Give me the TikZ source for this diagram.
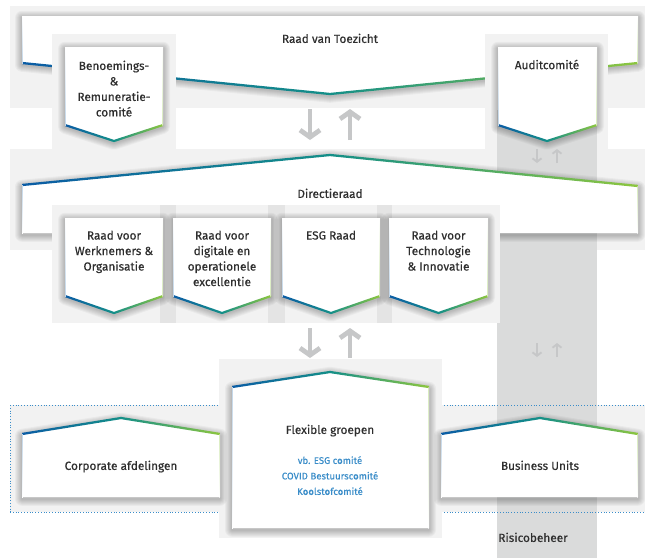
\documentclass[tikz,border=0pt]{standalone}
\usepackage{fontspec}
\setmainfont{Fira Sans}[FakeBold=0.45]
\newfontfamily\plainfont{Fira Sans}[FakeBold=0.2]
\usetikzlibrary{arrows.meta}
\definecolor{gblue}{HTML}{0B5CA5}
\definecolor{gteal}{HTML}{148F88}
\definecolor{ggreen}{HTML}{8DC63F}
\definecolor{bgl}{HTML}{F2F2F2}
\definecolor{colg}{HTML}{DADBDB}
\definecolor{sepg}{HTML}{E4E4E4}
\definecolor{arrg}{HTML}{C6C7C8}
\definecolor{txt}{HTML}{2E2E2E}
\definecolor{btxt}{HTML}{3A8DC9}
\newcommand\gradline[6]{%
  \begin{scope}
    \clip (#1,#2-1.15) -- (#3,#4-1.15) -- (#5,#6-1.15) -- (#5,#6+1.15) -- (#3,#4+1.15) -- (#1,#2+1.15) -- cycle;
    \shade[left color=gblue, right color=ggreen, middle color=gteal] (#1,#2-40) rectangle (#5,#4+40);
  \end{scope}}
\newcommand\vedge[5]{%
  \shade[top color=#4, bottom color=#5] (#1-0.35,#2) rectangle (#1+0.35,#3);}
\newcommand\shbox[1]{%
  \foreach \ww in {14,12,10,8,6,4,2}{\draw[shadowstroke, line width=\ww pt] #1;}
  \fill[white] #1;}
\tikzset{
  shadowstroke/.style={draw=black, opacity=0.035, line join=round, yshift=-1.8pt},
  backing/.style={fill=bgl},
  lbl/.style={text=txt, font=\fontsize{11.8}{15.5}\selectfont, align=center, inner sep=0pt, anchor=north},
  blbl/.style={text=btxt, font=\plainfont\fontsize{9.6}{15.5}\selectfont, align=center, inner sep=0pt, anchor=north},
  bigarrow/.style={draw=arrg, line width=4.8pt, -{Straight Barb[length=7pt, width=20pt]}},
  smallarrow/.style={draw=arrg, line width=1.9pt, -{Straight Barb[length=3.5pt, width=9pt]}},
  dottedline/.style={draw=btxt, line width=0.8pt, dash pattern=on 0.8pt off 2pt}
}
\begin{document}
\begin{tikzpicture}[x=1pt,y=-1pt]
\useasboundingbox (0,0) rectangle (645,558);
% backgrounds
\fill[bgl] (10,6) rectangle (645,108);
\fill[bgl] (10,149) rectangle (645,250);
\fill[bgl] (10,405) rectangle (645,512);
\fill[colg] (497,152) rectangle (597,558);
\draw[dottedline] (10,405) -- (645,405);
\draw[dottedline] (10,512) -- (645,512);
\draw[dottedline] (10,405) -- (10,512);
% Raad van Toezicht
\shbox{(22,16) -- (638,16) -- (638,63) -- (330,94) -- (22,63) -- cycle}
\gradline{22}{63}{330}{94}{638}{63}
\vedge{22.4}{16}{63}{white}{gblue!25}
\vedge{637.6}{16}{63}{white}{ggreen!35}
\fill[backing] (52,34) rectangle (176,152);
\fill[backing] (485,34) rectangle (608,152);
\fill[colg] (497,110) rectangle (597,152);
\shbox{(65,47) -- (163,47) -- (163,125) -- (114,141) -- (65,125) -- cycle}
\gradline{65}{125}{114}{141}{163}{125}
\vedge{65.4}{47}{125}{white}{gblue!25}
\vedge{162.6}{47}{125}{white}{ggreen!35}
\shbox{(498,47) -- (597,47) -- (597,125) -- (547,141) -- (498,125) -- cycle}
\gradline{498}{125}{547}{141}{597}{125}
\vedge{498.4}{47}{125}{white}{gblue!25}
\vedge{596.6}{47}{125}{white}{ggreen!35}
% Directieraad
\shbox{(22,185) -- (330,155) -- (638,186) -- (638,233) -- (22,233) -- cycle}
\gradline{22}{185}{330}{155}{638}{186}
\vedge{22.4}{185}{233}{gblue!25}{white}
\vedge{637.6}{186}{233}{ggreen!35}{white}
\fill[backing] (52,205) rectangle (500,323);
\fill[sepg] (160,205) rectangle (176,323);
\fill[sepg] (268,205) rectangle (285,323);
\fill[sepg] (377,205) rectangle (392,323);
\foreach \xa/\xb in {65/163,173/271,282/380,389/488}{
  \pgfmathsetmacro\xm{(\xa+\xb)/2}
  \shbox{(\xa,218) -- (\xb,218) -- (\xb,296) -- (\xm,313) -- (\xa,296) -- cycle}
  \gradline{\xa}{296}{\xm}{313}{\xb}{296}
  \vedge{\xa+0.4}{218}{296}{white}{gblue!25}
  \vedge{\xb-0.4}{218}{296}{white}{ggreen!35}
}
% Flexible groepen
\fill[backing] (219,359) rectangle (442,538);
\shbox{(232,387) -- (330,372) -- (429,387) -- (429,528) -- (232,528) -- cycle}
\gradline{232}{387}{330}{372}{429}{387}
\vedge{232.4}{387}{528}{gblue!25}{white}
\vedge{428.6}{387}{528}{ggreen!35}{white}
% Corporate / Business
\shbox{(22,434) -- (121,418) -- (220,434) -- (220,497) -- (22,497) -- cycle}
\gradline{22}{434}{121}{418}{220}{434}
\vedge{22.4}{434}{497}{gblue!25}{white}
\vedge{219.6}{434}{497}{ggreen!35}{white}
\shbox{(441,434) -- (540,418) -- (638,434) -- (638,497) -- (441,497) -- cycle}
\gradline{441}{434}{540}{418}{638}{434}
\vedge{441.4}{434}{497}{gblue!25}{white}
\vedge{637.6}{434}{497}{ggreen!35}{white}
% texts
\node[lbl] (rvt) at (330,33.5) {Raad van Toezicht};
\node[lbl] (ben) at (114,60.5) {Benoemings-\\\&\\Remuneratie-\\comité};
\node[lbl] (aud) at (547,59.5) {Auditcomité};
\node[lbl] (dir) at (330,188.5) {Directieraad};
\node[lbl] (wno) at (114,230.5) {Raad voor\\Werknemers \&\\Organisatie};
\node[lbl] (doe) at (222,230.5) {Raad voor\\digitale en\\operationele\\excellentie};
\node[lbl] (esg) at (331,230.5) {ESG Raad};
\node[lbl] (tei) at (438.5,230.5) {Raad voor\\Technologie\\\& Innovatie};
\node[lbl] (flex) at (330,424.5) {Flexible groepen};
\node[blbl] (flexs) at (330,456) {vb. ESG comité\\COVID Bestuurscomité\\Koolstofcomité};
\node[lbl] (corp) at (121,460.5) {Corporate afdelingen};
\node[lbl] (bu) at (540,460.5) {Business Units};
\node[lbl] (risk) at (533,532.5) {Risicobeheer};
% arrows
\coordinate (a1s) at (310,109); \coordinate (a1e) at (310,140);
\coordinate (a2s) at (350,140); \coordinate (a2e) at (350,109);
\coordinate (a3s) at (310,328); \coordinate (a3e) at (310,358);
\coordinate (a4s) at (350,358); \coordinate (a4e) at (350,328);
\draw[bigarrow] (a1s) -- (a1e);
\draw[bigarrow] (a2s) -- (a2e);
\draw[bigarrow] (a3s) -- (a3e);
\draw[bigarrow] (a4s) -- (a4e);
\coordinate (s1s) at (537,149); \coordinate (s1e) at (537,163);
\coordinate (s2s) at (557,163); \coordinate (s2e) at (557,149);
\coordinate (s3s) at (537,343); \coordinate (s3e) at (537,357);
\coordinate (s4s) at (557,357); \coordinate (s4e) at (557,343);
\draw[smallarrow] (s1s) -- (s1e);
\draw[smallarrow] (s2s) -- (s2e);
\draw[smallarrow] (s3s) -- (s3e);
\draw[smallarrow] (s4s) -- (s4e);
\end{tikzpicture}
\end{document}
